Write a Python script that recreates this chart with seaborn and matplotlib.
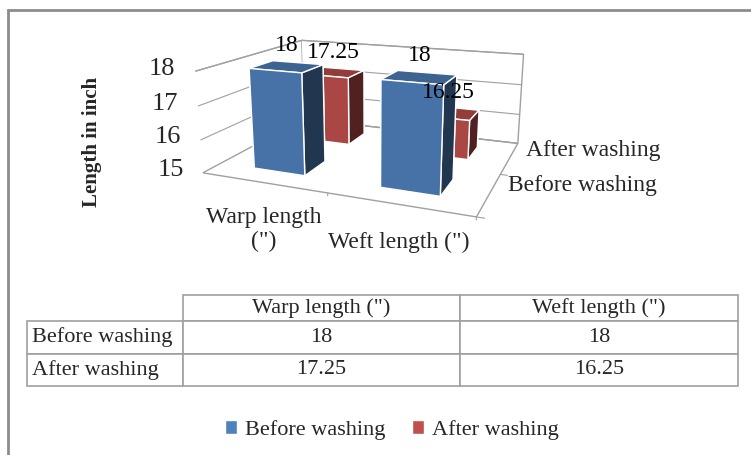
import numpy as np
import pandas as pd
import matplotlib
matplotlib.use("Agg")
import matplotlib.pyplot as plt
from matplotlib.patches import Patch, Rectangle
import seaborn as sns

# ---- data ----
categories = ['Warp length\n(")', 'Weft length (")']
table_cols = ['Warp length (")', 'Weft length (")']
series = ["Before washing", "After washing"]
before = [18, 18]
after = [17.25, 16.25]
zticks = [15, 16, 17, 18]
colors = ["#4F81BD", "#C0504D"]

sns.set_theme(style="white")
plt.rcParams["font.family"] = ["Liberation Serif", "DejaVu Serif"]

df = pd.DataFrame({
    "cat": list(range(len(categories))) * len(series),
    "ser": np.repeat(range(len(series)), len(categories)),
    "val": before + after,
})

fig = plt.figure(figsize=(7.51, 4.55), dpi=100)
fig.patch.set_facecolor("white")

# outer frame (top and left edges visible)
fig.add_artist(Rectangle((8 / 751, -0.2), 1.2, 1.2 - 10 / 455,
                         transform=fig.transFigure, fill=False,
                         edgecolor="#8C8C8C", linewidth=2))

# ---- 3D bar chart ----
ax = fig.add_axes([0.089, 0.418, 0.80, 0.66], projection="3d",
                  proj_type="persp", focal_length=0.38)
ax.set_facecolor("none")
base = zticks[0]
ncat, nser = len(categories), len(series)
bw, bd = 0.42, 0.42
x = df["cat"].to_numpy() + (1 - bw) / 2
y = df["ser"].to_numpy() + (1 - bd) / 2
dz = df["val"].to_numpy() - base
cols = [colors[s] for s in df["ser"]]
ax.bar3d(x, y, np.full(len(x), base), bw, bd, dz, color=cols, shade=True)

for c, s, v in zip(df["cat"], df["ser"], df["val"]):
    ax.text(c + 0.5, s + 0.5, v + 0.3, f"{v:g}", ha="center", va="bottom",
            fontsize=17, color="black", zorder=20)

ax.set_xlim(0, ncat)
ax.set_ylim(0, nser)
ax.set_zlim(zticks[0], zticks[-1])
ax.set_xticks(np.arange(ncat + 1))
ax.set_yticks(np.arange(nser + 1))
ax.set_zticks(zticks)
ax.set_xticklabels([])
ax.set_yticklabels([])
ax.set_zticklabels([])
ax.set_box_aspect((3.1, 2.4, 1.16), zoom=1.12)
ax.view_init(elev=15, azim=-68)

for axis in (ax.xaxis, ax.yaxis, ax.zaxis):
    axis.set_pane_color((1, 1, 1, 1))
    axis.pane.set_edgecolor("#A0A0A0")
    axis.line.set_color((1, 1, 1, 0))
    axis._axinfo["tick"]["inward_factor"] = 0
    axis._axinfo["tick"]["outward_factor"] = 0
ax.grid(True)
ax.xaxis._axinfo["grid"].update(linewidth=0)
ax.yaxis._axinfo["grid"].update(linewidth=0)
ax.zaxis._axinfo["grid"].update(color="#A0A0A0", linewidth=0.8)

tick_kw = dict(color="#A0A0A0", linewidth=0.8)
# z tick labels on the front-left edge
for t in zticks:
    ax.plot([0, -0.05], [0, 0], [t, t], **tick_kw)
    ax.text(-0.17, 0, t, str(t), ha="right", va="center", fontsize=19)
# category labels under the front edge
for i in range(ncat + 1):
    ax.plot([i, i], [0, 0], [base, base - 0.08], **tick_kw)
for i, lab in enumerate(categories):
    ax.text(i + 0.5, 0, base - 0.75, lab, ha="center", va="top",
            fontsize=17, linespacing=1.15)
# series labels along the right floor edge
for j in range(nser + 1):
    ax.plot([ncat, ncat + 0.05], [j, j], [base, base], **tick_kw)
for j, lab in enumerate(series):
    ax.text(ncat + 0.12, j + 0.5, base + 0.3, lab, ha="left", va="center",
            fontsize=17)

fig.text(92 / 751, 1 - 142 / 455, "Length in inch", rotation=90,
         ha="center", va="center", fontsize=15, fontweight="bold")

# ---- data table ----
tax = fig.add_axes([27 / 751, 1 - 386 / 455, (738 - 27) / 751, (386 - 295) / 455])
tax.axis("off")
cell_text = [[series[0]] + [f"{v:g}" for v in before],
             [series[1]] + [f"{v:g}" for v in after]]
tbl = tax.table(cellText=cell_text, colLabels=[""] + table_cols,
                colWidths=[156, 277, 278], bbox=[0, 0, 1, 1], cellLoc="center")
tbl.auto_set_font_size(False)
tbl.set_fontsize(16)
row_h = {0: 26, 1: 33, 2: 32}
for (r, c), cell in tbl.get_celld().items():
    cell.set_edgecolor("#A0A0A0")
    cell.set_linewidth(1.2)
    cell.set_height(row_h[r])
    if r == 0 and c == 0:
        cell.visible_edges = "open"
    if c == 0 and r > 0:
        cell._loc = "left"
        cell.PAD = 0.03
        cell.get_text().set_ha("left")

# ---- legend ----
handles = [Patch(facecolor=colors[i], label=series[i]) for i in range(nser)]
fig.legend(handles=handles, loc="center", bbox_to_anchor=(392 / 751, 1 - 430 / 455),
           ncol=2, frameon=False, fontsize=16, handlelength=0.55,
           handleheight=0.55, handletextpad=0.35, columnspacing=1.2)

fig.savefig("out.png", dpi=100)
